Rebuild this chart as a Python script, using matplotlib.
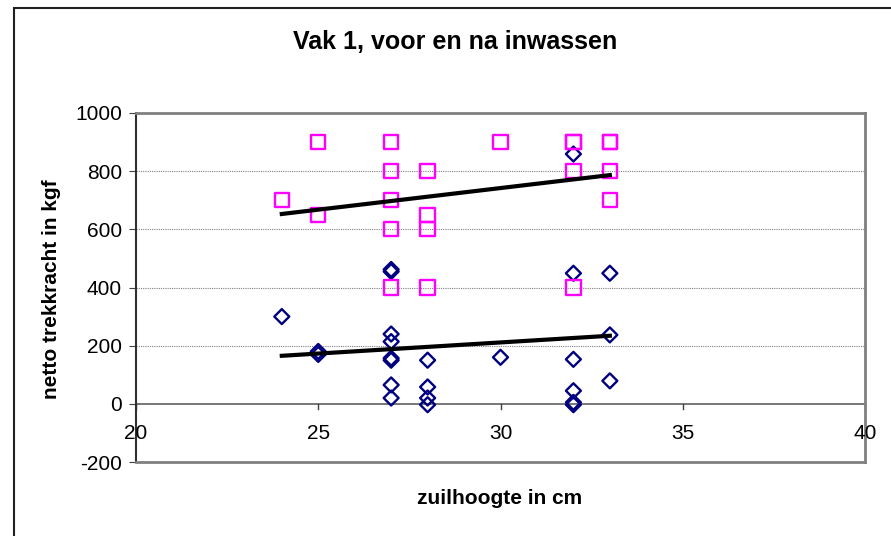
import numpy as np
import matplotlib
matplotlib.use('Agg')
import matplotlib.pyplot as plt
from matplotlib.patches import Rectangle

plt.rcParams['font.family'] = ['Liberation Sans', 'DejaVu Sans']
plt.rcParams['axes.unicode_minus'] = False

# voor inwassen (ruiten)
voor_x = [24, 25, 25, 27, 27, 27, 27, 27, 27, 27, 27, 28, 28, 28, 28, 30,
          32, 32, 32, 32, 32, 32, 33, 33, 33]
voor_y = [300, 180, 170, 462, 455, 240, 214, 157, 150, 65, 20, 150, 58, 20, -3, 160,
          859, 449, 153, 45, 5, -3, 449, 237, 79]

# na inwassen (vierkanten)
na_x = [24, 25, 25, 27, 27, 27, 27, 27, 28, 28, 28, 28, 30, 32, 32, 32, 32, 33, 33, 33, 33]
na_y = [700, 900, 648, 900, 800, 700, 600, 400, 800, 650, 600, 400, 900, 900, 900, 800, 400,
        900, 900, 800, 700]

x_ticks = [20, 25, 30, 35, 40]
y_ticks = [-200, 0, 200, 400, 600, 800, 1000]

fig = plt.figure(figsize=(8.91, 5.36), dpi=100)
ax = fig.add_axes([136/891, 74/536, 729/891, 349/536])

# rand om de grafiek
fig.patches.append(Rectangle((14/891, -0.1), 1.1, (528/536) + 0.1, transform=fig.transFigure,
                             fill=False, edgecolor='#202020', linewidth=1.5))

for yv in [200, 400, 600, 800]:
    ax.axhline(yv, color='#808080', linestyle=(0, (1, 1)), linewidth=0.8, zorder=1)
ax.axhline(0, color='#606060', linewidth=1.2, zorder=1)

ax.scatter(voor_x, voor_y, marker='D', s=58, facecolors='none', edgecolors='#000080',
           linewidths=1.7, zorder=3)
ax.scatter(na_x, na_y, marker='s', s=105, facecolors='none', edgecolors='#FF00FF',
           linewidths=1.7, zorder=3)

# lineaire trendlijnen
for xs, ys in [(voor_x, voor_y), (na_x, na_y)]:
    a, b = np.polyfit(xs, ys, 1)
    xx = np.array([min(xs), max(xs)])
    ax.plot(xx, a * xx + b, color='black', linewidth=3, zorder=4)

ax.set_xlim(20, 40)
ax.set_ylim(-200, 1000)
ax.set_yticks(y_ticks)
ax.set_xticks(x_ticks)
ax.set_xticklabels([])
ax.tick_params(axis='y', direction='out', length=5, color='#404040', labelsize=15, pad=5)
ax.tick_params(axis='x', length=0)

for s in ['top', 'right', 'bottom']:
    ax.spines[s].set_color('#808080')
    ax.spines[s].set_linewidth(2)
ax.spines['left'].set_color('#303030')
ax.spines['left'].set_linewidth(1.5)

# x-as snijdt bij 0: streepjes en labels onder die lijn
for xt in x_ticks:
    ax.plot([xt, xt], [0, -18], color='#404040', linewidth=1, zorder=2, clip_on=False)
    ax.text(xt, -103, str(xt), ha='center', va='center', fontsize=15)

fig.text(455/891, 1 - 42/536, 'Vak 1, voor en na inwassen', ha='center', va='center',
         fontsize=18, fontweight='bold')
fig.text(500/891, 1 - 498/536, 'zuilhoogte in cm', ha='center', va='center',
         fontsize=15, fontweight='bold')
fig.text(52/891, 1 - 289/536, 'netto trekkracht in kgf', ha='center', va='center',
         fontsize=15, fontweight='bold', rotation=90)

fig.savefig('out.png', dpi=100)
